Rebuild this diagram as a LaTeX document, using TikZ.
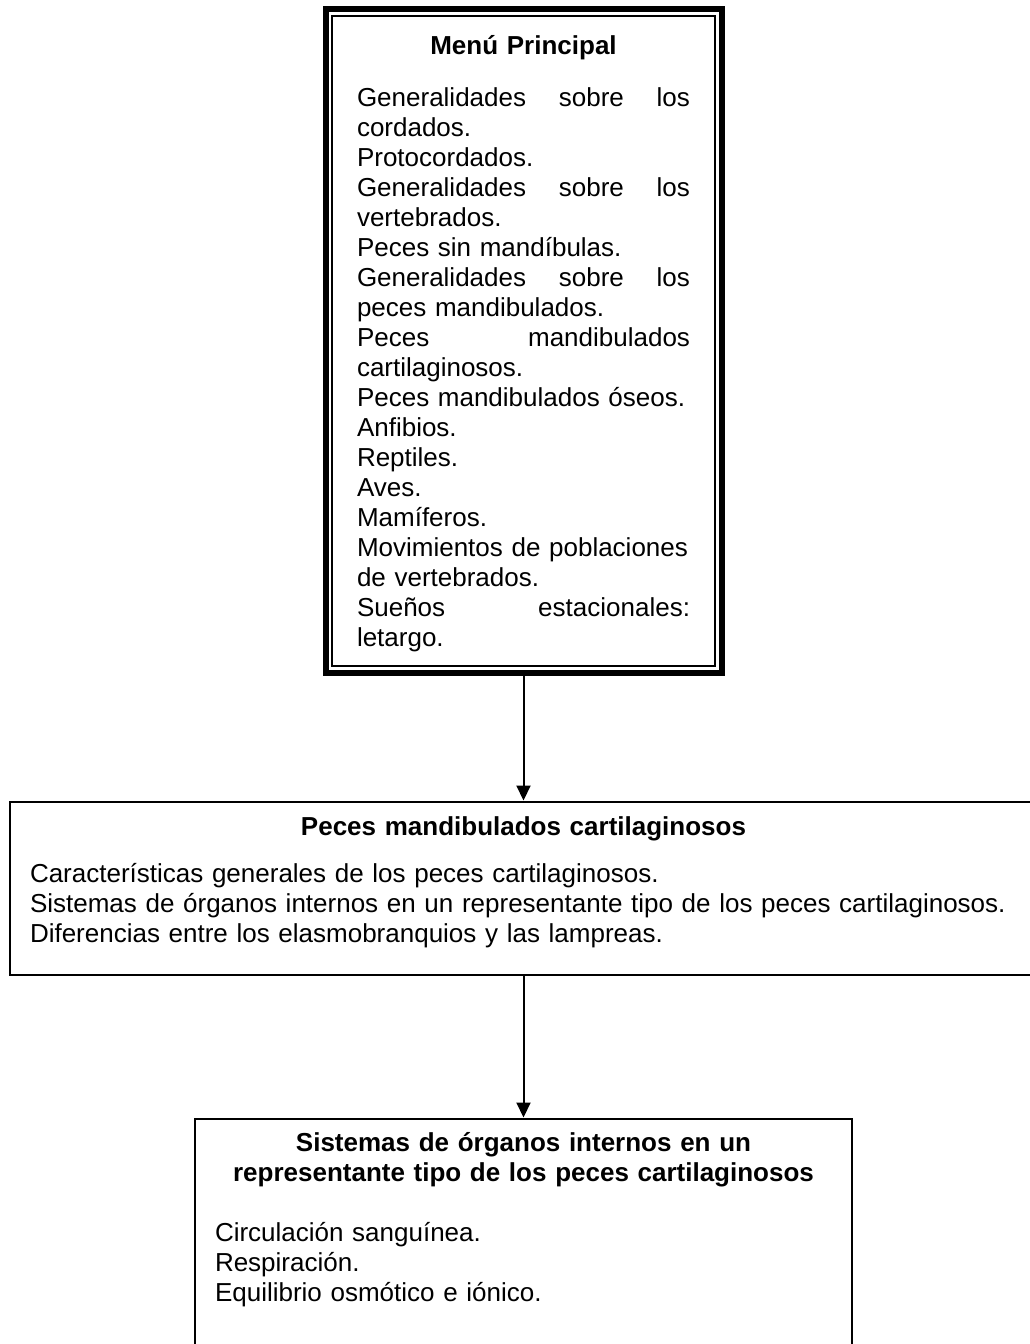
\documentclass[tikz,border=0pt]{standalone}
\usepackage{fontspec}
\setmainfont{Liberation Sans}
\usepackage{tikz}
\usetikzlibrary{arrows.meta, positioning, fit}
\hyphenpenalty=10000
\exhyphenpenalty=10000

\begin{document}
\begin{tikzpicture}[x=1pt, y=-1pt, >={Triangle[width=14pt,length=15pt]},
    panel/.style={draw, line width=2pt, inner xsep=20pt, inner ysep=6pt, align=left,
        font=\fontsize{26}{30}\selectfont},
    link/.style={->, line width=2pt}]
    \useasboundingbox (0,0) rectangle (1030,1344);

    \node[panel, inner xsep=25pt, text width=333pt, anchor=north] (menu) at (523.5,14.5) {\makebox[\linewidth]{\rule{0pt}{32.5pt}\bfseries Menú Principal}\\[22pt]
        Generalidades\hfill sobre\hfill los\\
        cordados.\\
        Protocordados.\\
        Generalidades\hfill sobre\hfill los\\
        vertebrados.\\
        Peces sin mandíbulas.\\
        Generalidades\hfill sobre\hfill los\\
        peces mandibulados.\\
        Peces\hfill mandibulados\\
        cartilaginosos.\\
        \mbox{Peces mandibulados óseos.}\\
        Anfibios.\\
        Reptiles.\\
        Aves.\\
        Mamíferos.\\
        \mbox{Movimientos de poblaciones}\\
        de vertebrados.\\
        Sueños\hfill estacionales:\\
        letargo.\rule[-14pt]{0pt}{14pt}};
    \node[draw, line width=6pt, fit=(menu), inner sep=5.5pt] (menuframe) {};

    \node[panel, text width=987pt, below=125pt of menuframe] (cartil) {\makebox[\linewidth]{\rule{0pt}{28pt}\bfseries Peces mandibulados cartilaginosos}\\[17pt]
        Características generales de los peces cartilaginosos.\\
        \mbox{Sistemas de órganos internos en un representante tipo de los peces cartilaginosos.}\\
        Diferencias entre los elasmobranquios y las lampreas.\rule[-26pt]{0pt}{26pt}};

    \node[panel, text width=617pt, below=142pt of cartil] (sistemas) {\makebox[\linewidth]{\rule{0pt}{27pt}\bfseries Sistemas de órganos internos en un}\\
        \makebox[\linewidth]{\bfseries representante tipo de los peces cartilaginosos}\\[30pt]
        Circulación sanguínea.\\
        Respiración.\\
        Equilibrio osmótico e iónico.\rule[-60pt]{0pt}{60pt}};

    \draw[link] (menuframe) -- (cartil);
    \draw[link] (cartil) -- (sistemas);
\end{tikzpicture}
\end{document}
